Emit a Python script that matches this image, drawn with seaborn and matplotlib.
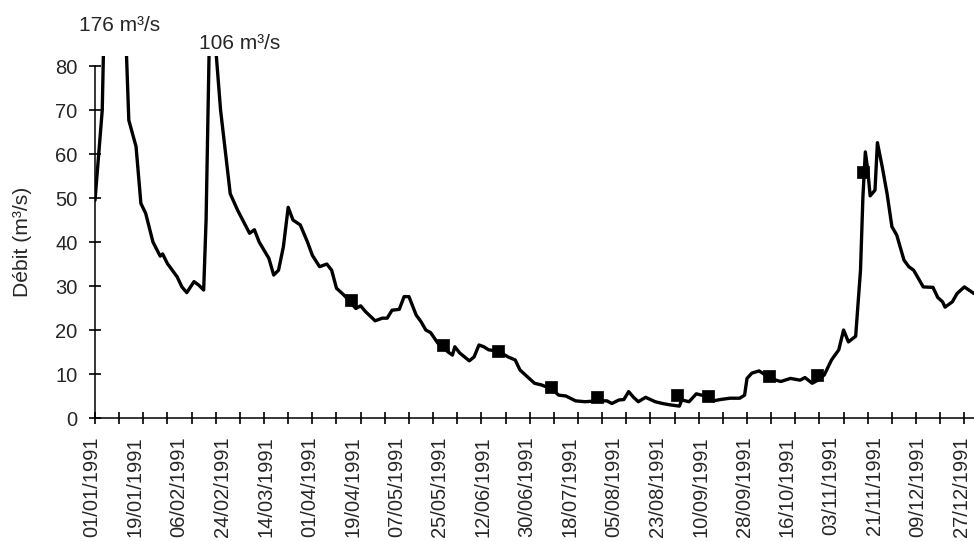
import matplotlib
matplotlib.use("Agg")
import matplotlib.pyplot as plt
import matplotlib.transforms as mtransforms
import seaborn as sns
import numpy as np

# ---- data (day of year 1991, 0 = 01/01/1991) ----
days = [0, 3, 7, 14, 17, 19, 21, 24, 27, 28, 30, 34, 36, 38, 41, 43, 45, 46, 48, 50,
        52, 56, 59, 64, 66, 68, 72, 74, 76, 78, 80, 82, 85, 88, 90, 93, 96, 98, 100, 103,
        105, 108, 110, 112, 116, 119, 121, 123, 126, 128, 130, 133, 135, 137, 139, 142, 144, 146, 148, 149,
        151, 155, 157, 159, 161, 163, 167, 171, 174, 176, 179, 182, 185, 189, 192, 195, 199, 203, 208, 212,
        214, 217, 219, 221, 223, 225, 228, 232, 235, 238, 242, 243, 246, 249, 254, 256, 259, 263, 267, 269,
        270, 272, 275, 277, 279, 282, 284, 288, 292, 294, 297, 299, 302, 305, 308, 310, 312, 315, 317, 318,
        319, 320, 321, 323, 324, 326, 328, 330, 332, 335, 337, 339, 343, 347, 349, 351, 352, 355, 357, 360,
        364]
debit = [49.5, 70, 176, 67.7, 61.7, 48.8, 46.5, 40, 36.8, 37.3, 35.1, 32.1, 29.8, 28.5, 31, 30.2, 29.1, 45, 106, 84,
         70, 51, 47.3, 42, 42.8, 40, 36.3, 32.5, 33.6, 38.9, 47.9, 45, 43.9, 40, 37, 34.4, 35, 33.6, 29.5, 28,
         26.8, 24.9, 25.5, 24.2, 22.1, 22.7, 22.7, 24.5, 24.7, 27.6, 27.6, 23.4, 21.9, 20, 19.4, 17, 16.3, 15.1, 14.3, 16.2,
         14.8, 13, 13.9, 16.6, 16.2, 15.5, 15.2, 13.9, 13.2, 10.9, 9.4, 7.9, 7.5, 6.6, 5.2, 5, 3.9, 3.7, 3.9, 3.9,
         3.3, 4.1, 4.2, 6, 4.7, 3.7, 4.7, 3.7, 3.3, 3, 2.7, 4.1, 3.7, 5.5, 4.8, 3.9, 4.2, 4.5, 4.5, 5.2,
         9, 10.2, 10.7, 10, 9.6, 8.6, 8.3, 9, 8.6, 9.2, 7.9, 8.5, 9.8, 13.2, 15.5, 20, 17.3, 18.6, 33.6, 50.3,
         60.5, 56.4, 50.5, 51.8, 62.6, 57.1, 51, 43.5, 41.6, 35.9, 34.4, 33.6, 29.8, 29.7, 27.4, 26.4, 25.2, 26.4, 28.3, 29.8,
         28.3]

# gauged measurements (square markers)
jaug_days = [106, 144, 167, 189, 208, 241, 254, 279, 299, 318]
jaug_debit = [26.8, 16.6, 15.2, 7.0, 4.7, 5.2, 5.0, 9.5, 9.8, 56.0]

tick_labels = ["01/01/1991", "19/01/1991", "06/02/1991", "24/02/1991", "14/03/1991",
               "01/04/1991", "19/04/1991", "07/05/1991", "25/05/1991", "12/06/1991",
               "30/06/1991", "18/07/1991", "05/08/1991", "23/08/1991", "10/09/1991",
               "28/09/1991", "16/10/1991", "03/11/1991", "21/11/1991", "09/12/1991",
               "27/12/1991"]
tick_days = [18 * i for i in range(len(tick_labels))]
y_ticks = [0, 10, 20, 30, 40, 50, 60, 70, 80]

# ---- style ----
sns.set_theme(style="white")
plt.rcParams["font.family"] = ["Liberation Sans", "DejaVu Sans"]
W = "normal"

fig = plt.figure(figsize=(9.74, 5.41), dpi=100)
ax = fig.add_axes([95 / 974, (541 - 418) / 541, (974 - 95) / 974, (418 - 56) / 541])

sns.lineplot(x=days, y=debit, ax=ax, color="black", linewidth=2.4, estimator=None, sort=False)
sns.scatterplot(x=jaug_days, y=jaug_debit, ax=ax, marker="s", s=85, color="black",
                edgecolor="black", linewidth=0.5, zorder=3)

ax.set_xlim(0, 364)
ax.set_ylim(0, 82.3)

for s in ["top", "right"]:
    ax.spines[s].set_visible(False)
ax.spines["left"].set_bounds(0, 80)
for s in ["left", "bottom"]:
    ax.spines[s].set_color("black")
    ax.spines[s].set_linewidth(1.1)

ax.set_yticks(y_ticks)
ax.set_yticklabels([str(v) for v in y_ticks], fontsize=14.5, fontweight=W)
ax.tick_params(axis="y", direction="inout", length=9, width=1.2, color="black", pad=8, left=True)

# 10-day tick marks (major, unlabeled) and 18-day date labels (minor, no marks)
ax.xaxis.remove_overlapping_locs = False
ax.set_xticks(np.arange(0, 365, 10))
ax.set_xticklabels([])
ax.set_xticks(tick_days, minor=True)
ax.set_xticklabels(tick_labels, minor=True, rotation=90, fontsize=14.5, fontweight=W,
                   va="top", ha="center")
ax.tick_params(axis="x", which="major", direction="inout", length=9, width=1.2, color="black", bottom=True)
ax.tick_params(axis="x", which="minor", length=0, pad=13, bottom=True)
offset = mtransforms.ScaledTranslation(-3 / 100, 0, fig.dpi_scale_trans)
for lab in ax.get_xticklabels(minor=True):
    lab.set_transform(lab.get_transform() + offset)

ax.set_xlabel("")
ax.set_ylabel("Débit (m³/s)", fontsize=15.2, fontweight=W)
ax.yaxis.set_label_coords((32 - 95) / 879, 40 / 82.3)

# peak annotations
pk1 = max(debit[:10])
pk2 = max(debit[10:30])
ax.text(10, 89.3, f"{pk1:.0f} m³/s", fontsize=15, fontweight=W, ha="center", va="center", clip_on=False)
ax.text(60, 85.2, f"{pk2:.0f} m³/s", fontsize=15, fontweight=W, ha="center", va="center", clip_on=False)

fig.savefig("out.png", dpi=100)
